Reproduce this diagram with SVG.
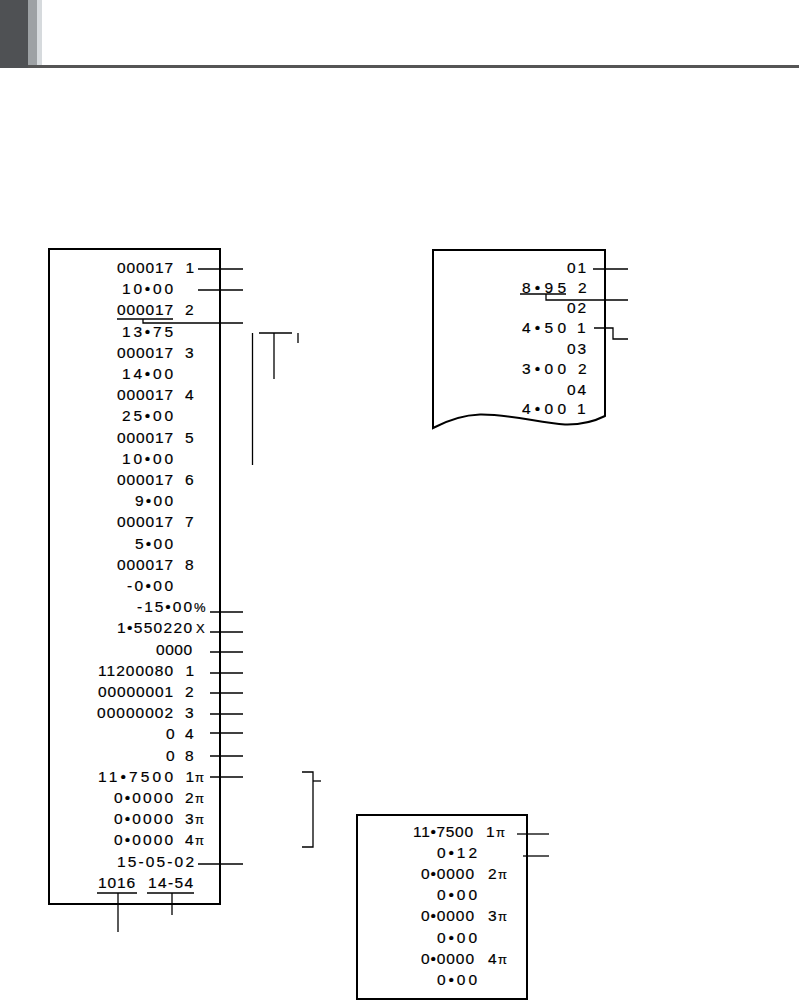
<svg xmlns="http://www.w3.org/2000/svg" width="799" height="1001" viewBox="0 0 799 1001">
<style>
.r{font-family:"Liberation Sans","Arial",sans-serif;font-size:15.5px;letter-spacing:1px;fill:#000;stroke:#000;stroke-width:0.2}
.s{font-family:"Liberation Sans","DejaVu Sans",sans-serif;font-size:13px;fill:#000;stroke:#000;stroke-width:0.2}
.box{fill:#fff;stroke:#000;stroke-width:2}
.ln{fill:none;stroke:#000;stroke-width:1.3}
</style>
<rect width="799" height="1001" fill="#fff"/>
<g id="header">
<rect x="0" y="0" width="28" height="68" fill="#4f5154"/>
<rect x="28" y="0" width="9" height="65" fill="#9da1a4"/>
<rect x="37" y="0" width="5" height="65" fill="#d6dadd"/>
<rect x="28" y="65" width="771" height="3" fill="#555"/>
</g>
<g id="receipt-main">
<rect class="box" x="49" y="249" width="171" height="655"/>
<text class="r" y="273"><tspan x="117" textLength="57" lengthAdjust="spacing">000017</tspan> <tspan x="185.5">1</tspan></text>
<text class="r" x="122" y="294.2" textLength="52" lengthAdjust="spacing">10•00</text>
<text class="r" y="315.4"><tspan x="117" textLength="57" lengthAdjust="spacing">000017</tspan> <tspan x="185">2</tspan></text>
<text class="r" x="122" y="336.6" textLength="52" lengthAdjust="spacing">13•75</text>
<text class="r" y="357.8"><tspan x="117" textLength="57" lengthAdjust="spacing">000017</tspan> <tspan x="185">3</tspan></text>
<text class="r" x="122" y="379" textLength="52" lengthAdjust="spacing">14•00</text>
<text class="r" y="400.2"><tspan x="117" textLength="57" lengthAdjust="spacing">000017</tspan> <tspan x="185">4</tspan></text>
<text class="r" x="122" y="421.4" textLength="52" lengthAdjust="spacing">25•00</text>
<text class="r" y="442.6"><tspan x="117" textLength="57" lengthAdjust="spacing">000017</tspan> <tspan x="185">5</tspan></text>
<text class="r" x="122" y="463.8" textLength="52" lengthAdjust="spacing">10•00</text>
<text class="r" y="485"><tspan x="117" textLength="57" lengthAdjust="spacing">000017</tspan> <tspan x="185">6</tspan></text>
<text class="r" x="135" y="506.2" textLength="39" lengthAdjust="spacing">9•00</text>
<text class="r" y="527.4"><tspan x="117" textLength="57" lengthAdjust="spacing">000017</tspan> <tspan x="185">7</tspan></text>
<text class="r" x="135" y="548.6" textLength="39" lengthAdjust="spacing">5•00</text>
<text class="r" y="569.8"><tspan x="117" textLength="57" lengthAdjust="spacing">000017</tspan> <tspan x="185">8</tspan></text>
<text class="r" x="127" y="591" textLength="47" lengthAdjust="spacing">-0•00</text>
<text class="r" x="137" y="612.2" textLength="56" lengthAdjust="spacing">-15•00</text>
<text class="s" x="194" y="612.2">%</text>
<text class="r" x="117" y="633.4" textLength="76" lengthAdjust="spacing">1•550220</text>
<text class="s" x="196" y="633.4">X</text>
<text class="r" x="156" y="654.6" textLength="37" lengthAdjust="spacing">0000</text>
<text class="r" y="675.8"><tspan x="98" textLength="76" lengthAdjust="spacing">11200080</tspan> <tspan x="185.5">1</tspan></text>
<text class="r" y="697"><tspan x="98" textLength="76" lengthAdjust="spacing">00000001</tspan> <tspan x="185">2</tspan></text>
<text class="r" y="718.2"><tspan x="97" textLength="77" lengthAdjust="spacing">00000002</tspan> <tspan x="185">3</tspan></text>
<text class="r" y="739.4"><tspan x="166">0</tspan> <tspan x="185">4</tspan></text>
<text class="r" y="760.6"><tspan x="166">0</tspan> <tspan x="185">8</tspan></text>
<text class="r" y="781.8"><tspan x="98" textLength="76" lengthAdjust="spacing">11•7500</tspan> <tspan x="185.5">1</tspan></text>
<text class="s" x="195" y="781.8">π</text>
<text class="r" y="803"><tspan x="114" textLength="60" lengthAdjust="spacing">0•0000</tspan> <tspan x="185">2</tspan></text>
<text class="s" x="195" y="803">π</text>
<text class="r" y="824.2"><tspan x="114" textLength="60" lengthAdjust="spacing">0•0000</tspan> <tspan x="185">3</tspan></text>
<text class="s" x="195" y="824.2">π</text>
<text class="r" y="845.4"><tspan x="114" textLength="60" lengthAdjust="spacing">0•0000</tspan> <tspan x="185">4</tspan></text>
<text class="s" x="195" y="845.4">π</text>
<text class="r" x="117" y="866.6" textLength="78" lengthAdjust="spacing">15-05-02</text>
<text class="r" y="887.8"><tspan x="98" textLength="38" lengthAdjust="spacing">1016</tspan> <tspan x="148" textLength="46" lengthAdjust="spacing">14-54</tspan></text>
</g>
<g id="receipt-right">
<path class="box" d="M433,428 L433,250 L605,250 L605,416 C597,420 585,425 565,424.5 C540,423 510,414 480,414.5 C465,415 450,419 433,428 Z"/>
<text class="r" x="567" y="272.5" textLength="20" lengthAdjust="spacing">01</text>
<text class="r" y="293"><tspan x="522" textLength="45" lengthAdjust="spacing">8•95</tspan> <tspan x="578">2</tspan></text>
<text class="r" x="567" y="313" textLength="20" lengthAdjust="spacing">02</text>
<text class="r" y="333"><tspan x="522" textLength="45" lengthAdjust="spacing">4•50</tspan> <tspan x="577">1</tspan></text>
<text class="r" x="567" y="353.5" textLength="20" lengthAdjust="spacing">03</text>
<text class="r" y="374"><tspan x="522" textLength="45" lengthAdjust="spacing">3•00</tspan> <tspan x="578">2</tspan></text>
<text class="r" x="567" y="394.5" textLength="20" lengthAdjust="spacing">04</text>
<text class="r" y="414"><tspan x="522" textLength="45" lengthAdjust="spacing">4•00</tspan> <tspan x="577">1</tspan></text>
</g>
<g id="receipt-tax">
<rect class="box" x="357" y="815" width="170" height="184"/>
<text class="r" y="837"><tspan x="413" textLength="61" lengthAdjust="spacing">11•7500</tspan> <tspan x="486">1</tspan></text>
<text class="s" x="496" y="837">π</text>
<text class="r" x="437" y="858.1" textLength="41" lengthAdjust="spacing">0•12</text>
<text class="r" y="879.2"><tspan x="421" textLength="54" lengthAdjust="spacing">0•0000</tspan> <tspan x="488">2</tspan></text>
<text class="s" x="498" y="879.2">π</text>
<text class="r" x="437" y="900.3" textLength="41" lengthAdjust="spacing">0•00</text>
<text class="r" y="921.4"><tspan x="421" textLength="54" lengthAdjust="spacing">0•0000</tspan> <tspan x="488">3</tspan></text>
<text class="s" x="498" y="921.4">π</text>
<text class="r" x="437" y="942.5" textLength="41" lengthAdjust="spacing">0•00</text>
<text class="r" y="963.6"><tspan x="421" textLength="54" lengthAdjust="spacing">0•0000</tspan> <tspan x="488">4</tspan></text>
<text class="s" x="498" y="963.6">π</text>
<text class="r" x="437" y="984.7" textLength="41" lengthAdjust="spacing">0•00</text>
</g>
<g id="connectors" class="ln">
<line x1="198" y1="269" x2="243" y2="269"/>
<line x1="198" y1="290" x2="243" y2="290"/>
<line x1="117" y1="319" x2="173" y2="319"/>
<polyline points="143,319 143,323 243,323"/>
<line x1="252.5" y1="333" x2="252.5" y2="465"/>
<line x1="259" y1="333" x2="292" y2="333"/>
<line x1="274" y1="333" x2="274" y2="379"/>
<line x1="298" y1="333" x2="298" y2="343"/>
<line x1="210" y1="612" x2="243" y2="612"/>
<line x1="210" y1="632" x2="243" y2="632"/>
<line x1="210" y1="652" x2="243" y2="652"/>
<line x1="210" y1="673" x2="243" y2="673"/>
<line x1="210" y1="693" x2="243" y2="693"/>
<line x1="210" y1="714" x2="243" y2="714"/>
<line x1="210" y1="733" x2="243" y2="733"/>
<line x1="210" y1="756" x2="243" y2="756"/>
<line x1="210" y1="777" x2="243" y2="777"/>
<line x1="198" y1="864" x2="243" y2="864"/>
<polyline points="302,772 313,772 313,847 302,847"/>
<line x1="313" y1="781" x2="321" y2="781"/>
<line x1="97" y1="893" x2="137" y2="893"/>
<line x1="147" y1="893" x2="194" y2="893"/>
<line x1="118" y1="893" x2="118" y2="932"/>
<line x1="172" y1="893" x2="172" y2="915"/>
<line x1="593" y1="269" x2="628" y2="269"/>
<line x1="520" y1="294" x2="566" y2="294"/>
<polyline points="546,294 546,300 628,300"/>
<polyline points="594,328 613,328 613,339 628,339"/>
<line x1="517" y1="834" x2="549" y2="834"/>
<line x1="523" y1="856" x2="549" y2="856"/>
</g>
</svg>
